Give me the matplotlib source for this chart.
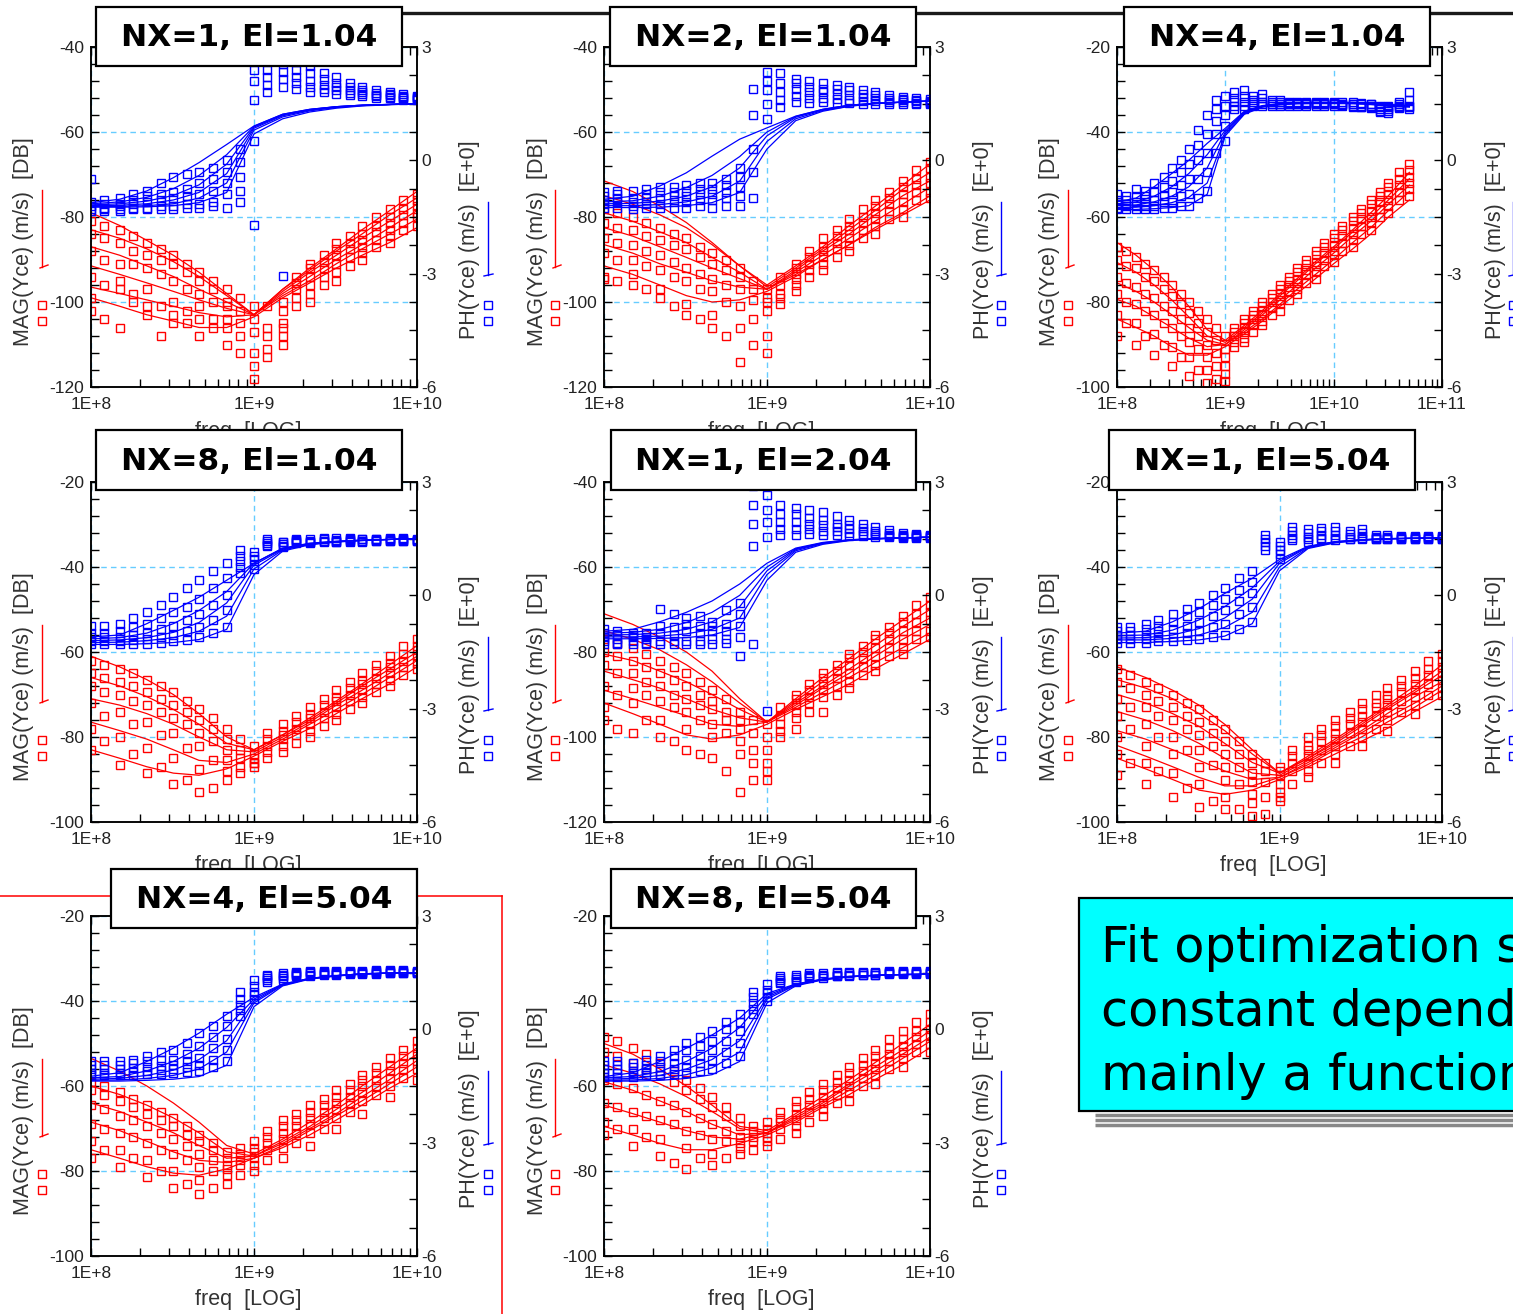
import matplotlib

matplotlib.use("Agg")
import matplotlib.pyplot as plt
import numpy as np
from matplotlib.patches import Rectangle
from matplotlib.ticker import FuncFormatter, LogLocator, MultipleLocator, NullFormatter

W, H = 1513, 1314
RED = "#ff0000"
BLUE = "#0000ff"
GRID = "#66ccff"

plt.rcParams["font.family"] = ["Liberation Sans", "DejaVu Sans"]
plt.rcParams["axes.unicode_minus"] = False

FREQ = [1e8, 1.5e8, 2.2e8, 3.2e8, 4.6e8, 6.8e8, 1e9, 1.5e9, 2.2e9, 3.2e9, 4.6e9, 6.8e9, 1e10]
FREQ_MID = [1.2e8, 1.8e8, 2.7e8, 3.9e8, 5.6e8, 8.2e8, 1.2e9, 1.8e9, 2.7e9, 3.9e9, 5.6e9, 8.2e9]
FREQ_WIDE = [1e8, 1.5e8, 2.2e8, 3.2e8, 4.6e8, 6.8e8, 1e9, 1.5e9, 2.2e9, 3.2e9, 4.6e9, 6.8e9,
             1e10, 1.5e10, 2.2e10, 3.2e10, 5e10]
FREQ_WIDE_MID = [1.2e8, 1.8e8, 2.7e8, 3.9e8, 5.6e8, 8.2e8, 1.2e9, 1.8e9, 2.7e9, 3.9e9, 5.6e9,
                 8.2e9, 1.2e10, 1.8e10, 2.7e10, 4e10]

# ---- NX=1, El=1.04 ----
MAG_FIT_NX1_E1 = [
    [-79, -82, -85.5, -89, -93, -98, -103, -97, -92, -87.5, -83, -78.5, -74],
    [-83, -85, -87.5, -90.5, -94, -98.5, -103, -97, -92.5, -88, -84, -79.5, -75.5],
    [-87, -89, -91.5, -94, -97, -100, -103, -97.5, -93, -89, -85, -81, -77],
    [-91.5, -93.5, -95.5, -97.5, -99.5, -101.5, -103, -98, -94, -90, -86.5, -82.5, -78.5],
    [-96.5, -98, -99.5, -101, -102.5, -103.5, -103, -98.5, -95, -91, -87.5, -84, -80.5],
    [-99, -101, -103, -104.5, -106, -106, -103.5, -99, -95.5, -92, -89, -86, -82.5],
]
MAG_MEAS_NX1_E1 = [
    [-81, -83, -86, -89, -93, -97, -101, -100, -91, -86, -82, -78, -74.5],
    [-84, -86, -89, -91, -95, -100, -104, -106, -92, -87.5, -84, -80, -76],
    [-88, -91, -92, -95, -98, -101, -107, -110, -94, -89, -85.5, -81.5, -77.5],
    [-94, -95, -97, -100, -101, -104, -112, -102, -96, -91, -87, -83, -79],
    [-99, -97, -101, -103, -104, -106, -115, -105, -98, -93, -88.5, -84.5, -80],
    [-102, -106, -103, -105, -108, -110, -118, -108, -100, -95, -90, -86, -82],
]
MAG_MEAS_MID_NX1_E1 = [
    [-82, -84.5, -87.5, -91, -95, -99, -101, -94, -89, -84.5, -80, -76],
    [-85, -88, -90, -93, -97, -102, -108, -95.5, -90.5, -86, -82, -78],
    [-90, -91, -93.5, -97, -100, -105, -111, -97, -92, -87.5, -83.5, -79.5],
    [-96, -98, -101, -102, -104, -108, -113, -99, -94, -89.5, -85.5, -81.5],
    [-104, -100, -108, -105, -106, -112, -106, -101, -96, -91.5, -87, -83],
]
PH_FIT_NX1_E1 = [
    [-1.12, -1.03, -0.81, -0.46, -0.06, 0.42, 0.91, 1.22, 1.35, 1.42, 1.46, 1.48, 1.5],
    [-1.15, -1.1, -0.98, -0.75, -0.4, 0.15, 0.9, 1.22, 1.35, 1.42, 1.46, 1.48, 1.5],
    [-1.18, -1.15, -1.08, -0.93, -0.65, -0.1, 0.88, 1.2, 1.34, 1.42, 1.46, 1.48, 1.5],
    [-1.2, -1.19, -1.15, -1.05, -0.85, -0.35, 0.85, 1.18, 1.33, 1.41, 1.45, 1.48, 1.5],
    [-1.22, -1.22, -1.2, -1.15, -1.0, -0.6, 0.8, 1.15, 1.31, 1.4, 1.45, 1.48, 1.5],
    [-1.24, -1.24, -1.23, -1.2, -1.12, -0.85, 0.7, 1.1, 1.28, 1.38, 1.44, 1.47, 1.5],
]
PH_MEAS_NX1_E1 = [
    [-1.1, -1.0, -0.8, -0.45, -0.3, 0.0, 2.4, 2.55, 2.5, 2.2, 1.95, 1.8, 1.7],
    [-1.2, -1.15, -0.95, -0.85, -0.6, -0.3, 0.5, 2.35, 2.3, 2.05, 1.85, 1.75, 1.68],
    [-1.3, -1.2, -1.1, -1.0, -0.9, -0.6, 1.6, 2.15, 2.1, 1.95, 1.8, 1.72, 1.65],
    [-1.35, -1.3, -1.25, -1.2, -1.15, -0.9, -1.7, 1.95, 1.95, 1.85, 1.75, 1.68, 1.62],
    [-0.5, -1.35, -1.3, -1.3, -1.25, -1.25, 2.1, -3.05, 1.8, 1.75, 1.7, 1.65, 1.6],
]
PH_MEAS_MID_NX1_E1 = [
    [-1.05, -0.9, -0.6, -0.35, -0.2, 0.3, 2.7, 2.6, 2.3, 2.05, 1.85, 1.75],
    [-1.15, -1.05, -0.9, -0.75, -0.5, -0.05, 2.4, 2.4, 2.15, 1.95, 1.78, 1.7],
    [-1.25, -1.15, -1.05, -0.95, -0.8, -0.45, 2.2, 2.2, 2.0, 1.85, 1.74, 1.67],
    [-1.3, -1.25, -1.2, -1.15, -1.1, -0.8, 2.0, 2.05, 1.9, 1.78, 1.7, 1.64],
    [-1.35, -1.3, -1.28, -1.25, -1.22, -1.1, 1.8, 1.9, 1.82, 1.72, 1.66, 1.6],
]

# ---- NX=2, El=1.04 ----
MAG_FIT_NX2_E1 = [
    [-71.5, -74, -77.4, -81.3, -86, -91.5, -96, -91.5, -87, -82, -77.5, -72.5, -67.5],
    [-75, -77, -79.5, -82.5, -86.5, -91.5, -96.5, -92, -87.5, -83, -78.5, -73.5, -69.5],
    [-79, -81, -83.5, -86, -89.5, -93, -97, -92.5, -88, -84, -79.5, -75, -71.5],
    [-82.5, -84.5, -87, -89.5, -92, -94.5, -97, -93, -89, -85, -81, -77, -73],
    [-86.5, -88.5, -91, -93, -95, -96.5, -97, -93.5, -90, -86.5, -82.5, -79, -75],
    [-91.5, -93.5, -96, -98.5, -100, -99.5, -97.5, -94, -90, -86.5, -83, -79.5, -76],
]
MAG_MEAS_NX2_E1 = [
    [-78, -80, -82.5, -85, -88.5, -92, -97, -91, -85, -80.5, -76, -71.5, -67],
    [-81.5, -83, -85.5, -87.5, -91, -94, -99, -92, -87, -82, -77.5, -73, -68.5],
    [-85, -86.5, -89, -92, -94.5, -97, -100, -93.5, -88, -83, -79, -74.5, -70.5],
    [-88.5, -90, -92.5, -95, -97.5, -101, -102, -94.5, -89.5, -85, -80.5, -76.5, -72],
    [-94, -93.5, -97, -100.5, -103, -106, -108, -96, -91, -86.5, -82, -78, -74],
    [-94.5, -96, -99, -103, -106, -114, -112, -97.5, -92.5, -88, -84, -80, -75.5],
]
MAG_MEAS_MID_NX2_E1 = [
    [-79, -81.5, -84, -87, -90, -95, -94, -88, -83, -78, -74, -69],
    [-82.5, -84.5, -86.5, -89.5, -92.5, -97, -96, -89.5, -84.5, -80, -75.5, -71],
    [-86, -88, -90.5, -93.5, -96, -99.5, -98, -91, -86, -81.5, -77, -72.5],
    [-90, -91.5, -94, -97, -100, -104, -99, -92.5, -87.5, -83, -78.5, -74],
    [-95, -97, -101, -104, -108, -110, -100.5, -94, -89.5, -85, -80.5, -76],
]
PH_FIT_NX2_E1 = [
    [-1.03, -0.95, -0.68, -0.33, 0.11, 0.56, 0.86, 1.17, 1.35, 1.46, 1.51, 1.54, 1.57],
    [-1.1, -1.07, -0.95, -0.72, -0.4, 0.1, 0.75, 1.16, 1.35, 1.46, 1.51, 1.54, 1.57],
    [-1.15, -1.14, -1.08, -0.95, -0.7, -0.2, 0.65, 1.14, 1.34, 1.45, 1.51, 1.54, 1.57],
    [-1.2, -1.2, -1.17, -1.1, -0.95, -0.55, 0.5, 1.1, 1.32, 1.44, 1.5, 1.54, 1.57],
    [-1.25, -1.25, -1.24, -1.2, -1.12, -0.85, 0.3, 1.05, 1.3, 1.43, 1.5, 1.54, 1.57],
]
PH_MEAS_NX2_E1 = [
    [-0.85, -0.8, -0.7, -0.65, -0.6, -0.2, 2.35, 2.15, 2.05, 1.95, 1.8, 1.68, 1.62],
    [-0.95, -1.0, -0.85, -0.8, -0.75, -0.45, 2.1, 2.05, 1.9, 1.85, 1.72, 1.63, 1.58],
    [-1.05, -1.1, -1.0, -0.95, -0.9, -0.7, 1.85, 1.9, 1.8, 1.72, 1.65, 1.6, 1.55],
    [-1.15, -1.2, -1.15, -1.1, -1.05, -0.95, 1.5, 1.7, 1.65, 1.6, 1.58, 1.55, 1.52],
    [-1.25, -1.3, -1.25, -1.25, -1.25, -1.2, 1.1, 1.55, 1.55, 1.52, 1.5, 1.5, 1.5],
]
PH_MEAS_MID_NX2_E1 = [
    [-0.8, -0.75, -0.7, -0.6, -0.5, 1.9, 2.3, 2.1, 2.0, 1.85, 1.72, 1.65],
    [-0.9, -0.9, -0.85, -0.75, -0.65, 1.2, 2.05, 1.95, 1.88, 1.75, 1.65, 1.6],
    [-1.0, -1.0, -0.95, -0.9, -0.85, 0.3, 1.8, 1.8, 1.75, 1.68, 1.6, 1.56],
    [-1.1, -1.15, -1.1, -1.05, -1.0, -0.3, 1.6, 1.65, 1.62, 1.58, 1.55, 1.53],
    [-1.25, -1.25, -1.25, -1.2, -1.2, -1.0, 1.4, 1.52, 1.52, 1.5, 1.5, 1.5],
]

# ---- NX=4, El=1.04 (wide band) ----
MAG_FIT_NX4_E1 = [
    [-66, -69, -72.5, -76.5, -81, -86.5, -89, -85.5, -82, -78, -74.5, -70.5, -67, -63, -59, -55, -49.5],
    [-70.7, -73, -76, -79.5, -83.5, -88, -89.5, -86, -82.5, -78.5, -75, -71, -67.5, -63.5, -60, -56, -51],
    [-75.5, -77.5, -80, -83, -86, -89, -90, -86.5, -83, -79.5, -76, -72, -68.5, -64.5, -61, -57, -52.5],
    [-79.4, -81, -83.5, -86, -88.5, -90.5, -90, -87, -84, -80.5, -77, -73.5, -70, -66, -62.5, -58.5, -54],
    [-84, -86, -88, -90.5, -92.5, -92.5, -90.5, -87.5, -84.5, -81, -78, -74.5, -71, -67.5, -64, -60, -56],
]
MAG_MEAS_NX4_E1 = [
    [-67, -69.5, -72.5, -76, -80, -84, -88, -84, -80, -76, -72, -68, -64, -60, -56, -52, -47.5],
    [-70, -72, -75, -78.5, -82.5, -87, -91, -85, -81, -77, -73, -69, -65, -61, -57, -53, -49],
    [-74, -76.5, -79, -82, -86, -90, -93, -86, -82, -78, -74.5, -70.5, -66.5, -62.5, -58.5, -54.5, -50.5],
    [-78, -80.5, -83, -86, -89.5, -93, -95, -87, -83, -79.5, -75.5, -71.5, -68, -64, -60, -56, -52],
    [-83, -85, -87.5, -90.5, -93, -96, -97, -88.5, -84.5, -80.5, -77, -73, -69, -65.5, -61.5, -57.5, -53.5],
    [-88, -90, -92.5, -95, -97.5, -99, -98.5, -89.5, -85.5, -82, -78, -74.5, -70.5, -67, -63, -59, -55],
]
MAG_MEAS_MID_NX4_E1 = [
    [-68, -71, -74, -78, -82, -86, -86, -82, -78, -74, -70, -66, -62, -58, -54, -49.5],
    [-71.5, -74, -77, -80.5, -85, -89, -87, -83, -79, -75, -71, -67, -63, -59, -55, -51],
    [-75.5, -78, -81, -84, -88, -92, -88, -84, -80, -76.5, -72.5, -68.5, -64.5, -60.5, -56.5, -52.5],
    [-80, -82, -85, -88, -91, -95, -89.5, -85.5, -81.5, -77.5, -73.5, -70, -66, -62, -58, -54],
    [-85, -88, -90, -93, -96, -98, -90.5, -87, -83, -79.5, -75.5, -71.5, -68, -64, -60, -56],
]
PH_FIT_NX4_E1 = [
    [-1.1, -1.0, -0.7, -0.35, 0.0, 0.45, 0.85, 1.3, 1.45, 1.5, 1.52, 1.53, 1.53, 1.53, 1.52, 1.48, 1.45],
    [-1.15, -1.1, -0.95, -0.7, -0.35, 0.15, 0.8, 1.28, 1.44, 1.5, 1.52, 1.53, 1.53, 1.53, 1.51, 1.46, 1.44],
    [-1.2, -1.18, -1.1, -0.95, -0.7, -0.2, 0.75, 1.26, 1.43, 1.49, 1.51, 1.52, 1.52, 1.52, 1.5, 1.45, 1.43],
    [-1.25, -1.24, -1.2, -1.12, -0.98, -0.6, 0.7, 1.24, 1.42, 1.48, 1.5, 1.51, 1.51, 1.51, 1.49, 1.44, 1.42],
    [-1.3, -1.3, -1.28, -1.25, -1.2, -0.9, 0.65, 1.22, 1.41, 1.47, 1.5, 1.5, 1.5, 1.5, 1.48, 1.43, 1.41],
]
PH_MEAS_NX4_E1 = [
    [-0.9, -0.75, -0.6, -0.2, 0.3, 1.2, 1.7, 1.85, 1.75, 1.6, 1.55, 1.55, 1.55, 1.55, 1.5, 1.45, 1.8],
    [-1.05, -0.95, -0.85, -0.55, -0.1, 0.7, 1.45, 1.7, 1.65, 1.55, 1.52, 1.52, 1.52, 1.5, 1.48, 1.4, 1.6],
    [-1.15, -1.1, -1.05, -0.85, -0.5, 0.2, 1.2, 1.55, 1.55, 1.5, 1.5, 1.5, 1.5, 1.48, 1.45, 1.35, 1.45],
    [-1.25, -1.2, -1.2, -1.1, -0.9, -0.3, 0.9, 1.45, 1.5, 1.48, 1.48, 1.48, 1.48, 1.45, 1.42, 1.3, 1.4],
    [-1.3, -1.3, -1.3, -1.25, -1.2, -0.8, 0.5, 1.35, 1.45, 1.45, 1.45, 1.45, 1.45, 1.42, 1.38, 1.25, 1.35],
]
PH_MEAS_MID_NX4_E1 = [
    [-0.95, -0.8, -0.45, 0.0, 0.8, 1.6, 1.8, 1.7, 1.6, 1.55, 1.55, 1.55, 1.55, 1.52, 1.45, 1.55],
    [-1.05, -0.95, -0.7, -0.3, 0.4, 1.35, 1.65, 1.6, 1.55, 1.52, 1.52, 1.52, 1.5, 1.48, 1.4, 1.5],
    [-1.15, -1.1, -0.95, -0.65, 0.0, 1.05, 1.55, 1.55, 1.5, 1.5, 1.5, 1.5, 1.48, 1.45, 1.35, 1.45],
    [-1.22, -1.2, -1.1, -0.95, -0.5, 0.7, 1.45, 1.5, 1.48, 1.48, 1.48, 1.48, 1.46, 1.42, 1.3, 1.42],
    [-1.3, -1.3, -1.25, -1.2, -1.0, 0.2, 1.35, 1.45, 1.45, 1.45, 1.45, 1.45, 1.43, 1.4, 1.27, 1.38],
]

# ---- NX=8, El=1.04 ----
MAG_FIT_NX8_E1 = [
    [-61, -63.5, -66.5, -70, -74.5, -80, -83, -79.5, -75.5, -71.5, -67.5, -63, -58.5],
    [-66, -68, -70.5, -73.5, -77, -81.5, -83, -79.5, -76, -72, -68, -64, -60],
    [-71, -72.5, -74.5, -77, -80, -83, -83.5, -80, -76.5, -72.5, -69, -65, -61],
    [-76.5, -78.5, -80.5, -83, -85.5, -86, -84, -80.5, -77, -73.5, -70, -66, -62],
    [-83, -85, -87, -88.5, -89, -87.5, -84.5, -81, -78, -74.5, -71, -67.5, -63.5],
]
MAG_MEAS_NX8_E1 = [
    [-62, -64, -66.5, -69.5, -73.5, -78, -82, -77, -73, -69, -65, -61, -57],
    [-65, -67, -69.5, -72.5, -76, -80.5, -84, -78.5, -74.5, -70.5, -66.5, -62.5, -58.5],
    [-68, -70, -72.5, -75.5, -79, -83, -85, -79.5, -75.5, -71.5, -67.5, -63.5, -59.5],
    [-72, -74, -76.5, -79, -82, -85.5, -86, -80.5, -77, -73, -69, -65, -61],
    [-78, -80, -82.5, -85, -87.5, -88, -86, -82, -78.5, -74.5, -70.5, -66.5, -62.5],
    [-83, -86.5, -88.5, -91, -93, -90, -87, -83.5, -80, -76, -72, -68, -64],
]
MAG_MEAS_MID_NX8_E1 = [
    [-63, -65, -68, -71.5, -75.5, -80.5, -79, -75, -71, -67, -63, -58.5],
    [-66, -68, -71, -74, -78, -83, -80.5, -76.5, -72.5, -68.5, -64.5, -60.5],
    [-69.5, -71.5, -74, -77, -81, -85, -82, -78, -74, -70, -66, -62],
    [-75, -77, -79.5, -82.5, -85.5, -87, -83.5, -79.5, -75.5, -71.5, -67.5, -63.5],
    [-81, -84, -87, -90, -92, -88.5, -85, -81.5, -77.5, -73.5, -69.5, -65.5],
]
PH_FIT_NX8_E1 = [
    [-1.1, -1.05, -0.75, -0.4, -0.05, 0.4, 0.85, 1.25, 1.38, 1.43, 1.46, 1.48, 1.5],
    [-1.15, -1.12, -1.0, -0.75, -0.4, 0.1, 0.85, 1.24, 1.37, 1.43, 1.46, 1.48, 1.5],
    [-1.2, -1.18, -1.12, -0.98, -0.72, -0.2, 0.8, 1.22, 1.36, 1.42, 1.46, 1.48, 1.5],
    [-1.25, -1.24, -1.2, -1.12, -0.95, -0.55, 0.7, 1.2, 1.35, 1.42, 1.45, 1.48, 1.5],
    [-1.3, -1.3, -1.28, -1.25, -1.17, -0.9, 0.55, 1.17, 1.34, 1.41, 1.45, 1.48, 1.5],
]
PH_MEAS_NX8_E1 = [
    [-0.8, -0.75, -0.45, -0.05, 0.4, 0.85, 1.05, 1.42, 1.5, 1.52, 1.5, 1.52, 1.5],
    [-1.0, -0.95, -0.75, -0.45, -0.1, 0.45, 1.15, 1.4, 1.45, 1.47, 1.48, 1.48, 1.47],
    [-1.1, -1.1, -1.0, -0.8, -0.5, 0.0, 0.95, 1.35, 1.42, 1.45, 1.45, 1.46, 1.46],
    [-1.2, -1.2, -1.15, -1.05, -0.85, -0.4, 0.8, 1.3, 1.4, 1.42, 1.44, 1.45, 1.45],
    [-1.3, -1.3, -1.28, -1.22, -1.1, -0.85, 0.7, 1.28, 1.38, 1.4, 1.42, 1.43, 1.44],
]
PH_MEAS_MID_NX8_E1 = [
    [-0.8, -0.6, -0.25, 0.2, 0.65, 1.2, 1.48, 1.5, 1.52, 1.52, 1.5, 1.52],
    [-1.0, -0.85, -0.6, -0.3, 0.2, 1.05, 1.43, 1.47, 1.48, 1.48, 1.48, 1.48],
    [-1.1, -1.05, -0.9, -0.65, -0.25, 0.9, 1.38, 1.43, 1.45, 1.46, 1.46, 1.46],
    [-1.2, -1.18, -1.1, -0.95, -0.65, 0.75, 1.34, 1.41, 1.43, 1.44, 1.45, 1.45],
    [-1.3, -1.3, -1.25, -1.18, -1.0, 0.6, 1.3, 1.38, 1.41, 1.42, 1.43, 1.44],
]

# ---- NX=1, El=2.04 ----
MAG_FIT_NX1_E2 = [
    [-71, -73.5, -76.5, -80, -84.5, -91, -96.5, -91, -86, -81.5, -77, -72.5, -68],
    [-75, -77, -79.5, -83, -87, -92, -96.5, -91.5, -87, -82.5, -78.5, -74, -70],
    [-80.5, -82, -84.5, -87, -90, -93.5, -96.5, -92, -88, -84, -80, -75.5, -72],
    [-84.5, -86.5, -88.5, -91, -93.5, -95.5, -96.5, -92.5, -88.5, -85, -81, -77, -73.5],
    [-89, -91, -93, -95, -97, -97.5, -96.5, -93, -89.5, -86, -82.5, -79, -75.5],
    [-92, -94.5, -97, -99.5, -100.5, -99.5, -97, -93.5, -90.5, -87.5, -84, -80.5, -77],
]
MAG_MEAS_NX1_E2 = [
    [-77, -79, -82, -85, -89, -94, -97, -90, -85, -80.5, -76, -71.5, -67],
    [-80, -82, -85, -88, -91.5, -96, -100, -91, -86, -81.5, -77, -73, -69],
    [-83, -85, -88, -91, -93.5, -98, -103, -92.5, -87.5, -83, -79, -75, -70.5],
    [-88, -88.5, -91.5, -94, -97, -101, -106, -94, -89, -85, -81, -77, -72.5],
    [-93, -92, -96, -98, -100, -104, -108, -95.5, -90.5, -87, -83, -79, -75],
    [-96, -99, -100, -103, -105, -113, -110, -98, -94, -88.5, -84.5, -80.5, -76.5],
]
MAG_MEAS_MID_NX1_E2 = [
    [-78, -80.5, -83.5, -87, -91, -96, -93, -87.5, -83, -78.5, -74, -69],
    [-81, -83.5, -86.5, -90, -94, -99, -95, -89, -84.5, -80, -75.5, -71],
    [-85, -87, -90, -92.5, -96, -103, -97, -90.5, -86, -81.5, -77, -73],
    [-90, -90, -93, -96, -99, -106, -98.5, -92, -88, -83.5, -79, -75],
    [-98, -96, -101, -104, -108, -110, -100, -94, -90, -85.5, -81, -77],
]
PH_FIT_NX1_E2 = [
    [-0.95, -0.9, -0.7, -0.45, -0.15, 0.3, 0.85, 1.25, 1.4, 1.47, 1.5, 1.52, 1.54],
    [-1.0, -0.98, -0.9, -0.72, -0.45, 0.0, 0.75, 1.23, 1.39, 1.47, 1.5, 1.52, 1.54],
    [-1.05, -1.04, -1.0, -0.9, -0.7, -0.3, 0.65, 1.21, 1.38, 1.46, 1.5, 1.52, 1.54],
    [-1.1, -1.1, -1.08, -1.02, -0.9, -0.6, 0.55, 1.18, 1.37, 1.46, 1.5, 1.52, 1.54],
    [-1.15, -1.15, -1.14, -1.12, -1.05, -0.85, 0.4, 1.14, 1.35, 1.45, 1.49, 1.52, 1.54],
]
PH_MEAS_NX1_E2 = [
    [-0.9, -1.0, -0.35, -0.6, -0.7, -0.2, 2.65, 2.3, 2.2, 2.0, 1.8, 1.65, 1.6],
    [-1.0, -1.05, -0.8, -0.75, -0.8, -0.5, 2.25, 2.15, 2.0, 1.85, 1.7, 1.6, 1.58],
    [-1.1, -1.1, -1.0, -0.95, -0.95, -0.8, 1.95, 1.95, 1.85, 1.75, 1.65, 1.58, 1.56],
    [-1.2, -1.2, -1.2, -1.2, -1.15, -1.1, 1.55, 1.75, 1.7, 1.65, 1.6, 1.55, 1.54],
    [-1.3, -1.3, -1.3, -1.3, -1.3, -1.6, -3.05, 1.6, 1.6, 1.58, 1.55, 1.53, 1.52],
]
PH_MEAS_MID_NX1_E2 = [
    [-0.95, -1.0, -0.5, -0.55, -0.4, 2.9, 2.4, 2.25, 2.1, 1.9, 1.72, 1.62],
    [-1.05, -1.1, -0.85, -0.8, -0.75, 2.4, 2.15, 2.05, 1.9, 1.78, 1.66, 1.6],
    [-1.15, -1.15, -1.05, -1.0, -0.95, 1.9, 1.95, 1.9, 1.8, 1.7, 1.6, 1.57],
    [-1.25, -1.25, -1.2, -1.2, -1.15, 1.3, 1.75, 1.75, 1.7, 1.62, 1.56, 1.55],
    [-1.3, -1.3, -1.3, -1.3, -1.25, -1.3, 1.6, 1.62, 1.6, 1.56, 1.54, 1.53],
]

# ---- NX=1, El=5.04 ----
MAG_FIT_NX1_E5 = [
    [-63.5, -66, -69, -72.5, -77, -83, -88.5, -84.5, -80.5, -76.5, -72.5, -68, -63],
    [-66.5, -68.5, -71, -74.5, -78.5, -84, -88.5, -85, -81, -77, -73, -69, -64.5],
    [-70, -72, -74.5, -77.5, -81.5, -86, -88.5, -85, -81.5, -77.5, -73.5, -69.5, -65.5],
    [-74, -76, -78.5, -81.5, -85, -88.5, -89, -85.5, -82, -78.5, -74.5, -70.5, -67],
    [-78.5, -80.5, -83, -85.5, -88, -90, -89.5, -86, -82.5, -79, -75.5, -72, -68],
    [-82, -84.5, -87, -89.5, -91.5, -91.5, -89.5, -86.5, -83, -80, -76.5, -73, -69],
    [-85, -87.5, -90, -92.5, -93.5, -92.5, -90, -87, -84, -81, -78, -74, -70.5],
]
MAG_MEAS_NX1_E5 = [
    [-64, -67, -70, -73.5, -78, -84, -87, -80, -76, -72, -68.5, -64.5, -60.5],
    [-67, -70, -73, -76.5, -81, -86, -88, -82, -77.5, -73.5, -70, -66, -62],
    [-71, -73, -76, -79.5, -84, -88.5, -89, -83, -79, -75, -71, -67.5, -63.5],
    [-75, -77, -80, -83, -87, -90.5, -91, -84.5, -80.5, -76.5, -72.5, -69, -65],
    [-80, -82, -84, -87, -90, -93.5, -93, -86, -82, -78, -74, -70.5, -66.5],
    [-84, -86, -88.5, -91, -94, -95.5, -94, -88, -84, -80, -76, -72.5, -68.5],
    [-89, -91, -94, -96.5, -97, -98.5, -95, -89.5, -86, -82, -78.5, -74.5, -70],
]
MAG_MEAS_MID_NX1_E5 = [
    [-65.5, -68.5, -72, -76, -81, -86, -83, -78, -74, -70, -66.5, -62],
    [-68.5, -71.5, -75, -79, -84, -88, -84.5, -79.5, -75.5, -72, -68, -64],
    [-73, -75, -78, -82, -87, -90.5, -86, -81, -77, -73, -69.5, -65.5],
    [-78, -80, -83, -86.5, -91, -94, -88, -83, -79, -75, -71.5, -67.5],
    [-86, -88, -92, -95, -97, -98, -91, -86, -82, -78, -74, -70],
]
PH_FIT_NX1_E5 = [
    [-1.0, -0.95, -0.7, -0.35, 0.05, 0.45, 0.95, 1.3, 1.42, 1.47, 1.5, 1.51, 1.52],
    [-1.07, -1.05, -0.92, -0.65, -0.3, 0.2, 0.9, 1.29, 1.42, 1.47, 1.5, 1.51, 1.52],
    [-1.13, -1.12, -1.05, -0.88, -0.6, -0.1, 0.85, 1.28, 1.41, 1.47, 1.5, 1.51, 1.52],
    [-1.18, -1.18, -1.14, -1.05, -0.85, -0.45, 0.75, 1.26, 1.4, 1.46, 1.5, 1.51, 1.52],
    [-1.25, -1.25, -1.22, -1.18, -1.08, -0.75, 0.65, 1.24, 1.39, 1.46, 1.49, 1.51, 1.52],
]
PH_MEAS_NX1_E5 = [
    [-0.85, -0.75, -0.5, -0.2, 0.2, 0.65, 1.4, 1.75, 1.8, 1.75, 1.6, 1.58, 1.58],
    [-0.95, -0.9, -0.7, -0.45, -0.1, 0.35, 1.3, 1.65, 1.7, 1.65, 1.55, 1.55, 1.55],
    [-1.05, -1.05, -0.9, -0.7, -0.4, 0.05, 1.2, 1.55, 1.6, 1.58, 1.52, 1.52, 1.52],
    [-1.15, -1.15, -1.1, -0.95, -0.75, -0.3, 1.1, 1.48, 1.52, 1.52, 1.5, 1.5, 1.5],
    [-1.25, -1.25, -1.22, -1.15, -1.05, -0.7, 0.95, 1.42, 1.47, 1.48, 1.48, 1.48, 1.48],
]
PH_MEAS_MID_NX1_E5 = [
    [-0.85, -0.65, -0.35, 0.0, 0.45, 1.6, 1.8, 1.78, 1.7, 1.6, 1.58, 1.58],
    [-0.95, -0.8, -0.55, -0.25, 0.15, 1.5, 1.7, 1.7, 1.62, 1.55, 1.55, 1.55],
    [-1.05, -0.95, -0.8, -0.55, -0.15, 1.4, 1.6, 1.6, 1.55, 1.52, 1.52, 1.52],
    [-1.15, -1.1, -1.0, -0.85, -0.5, 1.3, 1.52, 1.53, 1.5, 1.5, 1.5, 1.5],
    [-1.25, -1.22, -1.18, -1.1, -0.9, 1.2, 1.46, 1.48, 1.48, 1.48, 1.48, 1.48],
]

# ---- NX=4, El=5.04 ----
MAG_FIT_NX4_E5 = [
    [-53.5, -56.5, -60, -64, -68.5, -74, -76, -72.5, -68.5, -64.5, -60, -55.5, -51],
    [-60, -62, -64.5, -67.5, -71, -75.5, -76.5, -73, -69.5, -65.5, -61.5, -57, -52.5],
    [-64, -66, -68.5, -71, -74, -77, -76.5, -73.5, -70, -66.5, -62.5, -58.5, -54],
    [-68.5, -70.5, -73, -75.5, -77.5, -78, -77, -74, -70.5, -67, -63.5, -59.5, -55.5],
    [-75, -77, -79, -80.5, -81, -79.5, -77, -74.5, -71.5, -68, -64.5, -60.5, -57],
]
MAG_MEAS_NX4_E5 = [
    [-59, -61.5, -64.5, -67.5, -71.5, -75.5, -73, -68, -64.5, -61, -57.5, -53.5, -49.5],
    [-61, -63.5, -66.5, -69.5, -73, -77, -74.5, -69.5, -66, -62.5, -58.5, -55, -51],
    [-64.5, -67, -69.5, -72.5, -76, -78.5, -75.5, -71, -67.5, -64, -60, -56.5, -52.5],
    [-69, -71, -73.5, -76, -79, -79.5, -77, -72.5, -69, -65.5, -61.5, -58, -54],
    [-73, -75, -77.5, -80, -82, -81, -78.5, -74.5, -71, -67.5, -63.5, -60, -56],
    [-77, -79, -81.5, -84, -85.5, -83, -80, -77, -74, -70, -66.5, -62.5, -58.5],
]
MAG_MEAS_MID_NX4_E5 = [
    [-60, -63, -66, -69.5, -73.5, -74.5, -70.5, -66.5, -63, -59.5, -55.5, -51.5],
    [-62, -65, -68, -71.5, -75, -76, -72, -68, -64.5, -61, -57, -53],
    [-65.5, -68, -71, -74, -77.5, -77.5, -73.5, -69.5, -66, -62.5, -58.5, -54.5],
    [-70, -72, -75, -77.5, -80, -78.5, -75, -71, -67.5, -64, -60, -56],
    [-75, -77, -80, -83, -84, -81, -77.5, -73.5, -70, -66, -62, -58],
]
PH_FIT_NX4_E5 = [
    [-1.24, -1.15, -0.85, -0.5, -0.1, 0.4, 0.85, 1.2, 1.35, 1.42, 1.47, 1.49, 1.5],
    [-1.28, -1.25, -1.1, -0.85, -0.5, 0.05, 0.8, 1.19, 1.35, 1.42, 1.47, 1.49, 1.5],
    [-1.32, -1.3, -1.22, -1.08, -0.8, -0.3, 0.75, 1.18, 1.34, 1.42, 1.47, 1.49, 1.5],
    [-1.35, -1.34, -1.3, -1.22, -1.05, -0.6, 0.7, 1.17, 1.34, 1.42, 1.46, 1.49, 1.5],
    [-1.37, -1.37, -1.35, -1.32, -1.25, -0.95, 0.6, 1.15, 1.33, 1.41, 1.46, 1.49, 1.5],
]
PH_MEAS_NX4_E5 = [
    [-0.85, -0.85, -0.7, -0.55, -0.1, 0.35, 1.3, 1.5, 1.55, 1.55, 1.55, 1.57, 1.55],
    [-0.95, -0.95, -0.85, -0.8, -0.45, 0.1, 1.15, 1.45, 1.52, 1.53, 1.53, 1.54, 1.53],
    [-1.05, -1.05, -1.0, -0.95, -0.75, -0.25, 1.0, 1.4, 1.48, 1.5, 1.5, 1.52, 1.51],
    [-1.15, -1.15, -1.1, -1.05, -0.95, -0.55, 0.9, 1.35, 1.45, 1.47, 1.48, 1.5, 1.5],
    [-1.2, -1.2, -1.18, -1.15, -1.1, -0.85, 0.8, 1.3, 1.42, 1.45, 1.46, 1.48, 1.48],
]
PH_MEAS_MID_NX4_E5 = [
    [-0.85, -0.8, -0.6, -0.35, 0.1, 1.0, 1.45, 1.52, 1.55, 1.55, 1.56, 1.56],
    [-0.95, -0.9, -0.8, -0.65, -0.2, 0.8, 1.4, 1.5, 1.52, 1.53, 1.54, 1.54],
    [-1.05, -1.02, -0.97, -0.85, -0.5, 0.65, 1.35, 1.46, 1.5, 1.5, 1.52, 1.52],
    [-1.15, -1.12, -1.08, -1.0, -0.8, 0.5, 1.3, 1.43, 1.47, 1.48, 1.5, 1.5],
    [-1.2, -1.2, -1.17, -1.13, -1.0, 0.35, 1.25, 1.4, 1.44, 1.46, 1.47, 1.48],
]

# ---- NX=8, El=5.04 ----
MAG_FIT_NX8_E5 = [
    [-50, -52.5, -56, -60, -64.5, -69.5, -70.5, -66.5, -62.5, -58.5, -54.5, -50, -45.5],
    [-55, -57, -59.5, -62.5, -66, -70, -71, -67, -63.5, -59.5, -55.5, -51.5, -47],
    [-59, -61, -63.5, -66, -69, -71.5, -71, -67.5, -64, -60, -56.5, -52.5, -48.5],
    [-64.5, -66.5, -68.5, -70.5, -72, -72.5, -71, -68, -64.5, -61, -57.5, -53.5, -49.5],
    [-69.5, -71.5, -73.5, -75, -75, -73.5, -71.5, -68.5, -65, -62, -58.5, -55, -51],
]
MAG_MEAS_NX8_E5 = [
    [-48.5, -51, -54.5, -58.5, -62.5, -67.5, -68.5, -63.5, -59.5, -55.5, -51.5, -47, -43],
    [-52, -54.5, -57.5, -61, -65, -69.5, -70, -65, -61, -57, -53, -49, -45],
    [-58.5, -60.5, -63.5, -66, -69, -72, -71, -66.5, -62.5, -58.5, -54.5, -50.5, -46.5],
    [-64, -66, -68, -70.5, -72.5, -73.5, -72, -68, -64, -60, -56, -52, -48],
    [-68.5, -70, -72.5, -74.5, -76, -74.5, -73, -69.5, -65.5, -61.5, -57.5, -53.5, -50],
    [-71.5, -74, -76.5, -79.5, -78.5, -76, -74, -71, -67, -63.5, -59.5, -55.5, -52],
]
MAG_MEAS_MID_NX8_E5 = [
    [-49.5, -52.5, -56.5, -60.5, -65, -69.5, -66, -61.5, -57.5, -53.5, -49, -45],
    [-53, -56, -59, -63, -67, -70.5, -67.5, -63, -59, -55, -51, -47],
    [-59.5, -62, -64.5, -67.5, -70.5, -72, -68.5, -64.5, -60.5, -56.5, -52.5, -48.5],
    [-65, -67, -69, -71.5, -73, -73, -70, -66, -62, -58, -54, -50],
    [-70, -72, -78, -77, -77, -75, -72.5, -68.5, -64, -60, -56, -52],
]
PH_FIT_NX8_E5 = [
    [-1.25, -1.15, -0.85, -0.5, -0.15, 0.3, 0.95, 1.2, 1.33, 1.4, 1.43, 1.45, 1.46],
    [-1.28, -1.25, -1.12, -0.85, -0.5, 0.05, 0.9, 1.19, 1.33, 1.4, 1.43, 1.45, 1.46],
    [-1.32, -1.3, -1.22, -1.05, -0.8, -0.3, 0.85, 1.18, 1.32, 1.39, 1.43, 1.45, 1.46],
    [-1.35, -1.34, -1.3, -1.2, -1.02, -0.6, 0.8, 1.17, 1.32, 1.39, 1.43, 1.45, 1.46],
    [-1.37, -1.37, -1.35, -1.3, -1.2, -0.85, 0.7, 1.15, 1.31, 1.39, 1.43, 1.45, 1.46],
]
PH_MEAS_NX8_E5 = [
    [-0.85, -0.9, -0.7, -0.35, -0.05, 0.4, 1.2, 1.45, 1.5, 1.52, 1.53, 1.55, 1.55],
    [-0.95, -1.0, -0.85, -0.55, -0.3, 0.2, 1.05, 1.38, 1.45, 1.48, 1.5, 1.52, 1.52],
    [-1.05, -1.1, -1.0, -0.8, -0.55, -0.05, 0.95, 1.32, 1.42, 1.45, 1.48, 1.5, 1.5],
    [-1.15, -1.15, -1.1, -1.0, -0.8, -0.35, 0.85, 1.28, 1.4, 1.43, 1.45, 1.48, 1.48],
    [-1.25, -1.25, -1.2, -1.15, -1.05, -0.7, 0.75, 1.25, 1.37, 1.4, 1.43, 1.46, 1.46],
]
PH_MEAS_MID_NX8_E5 = [
    [-0.85, -0.8, -0.55, -0.2, 0.2, 1.0, 1.42, 1.48, 1.52, 1.53, 1.55, 1.55],
    [-0.95, -0.95, -0.7, -0.45, 0.0, 0.85, 1.36, 1.44, 1.48, 1.5, 1.52, 1.52],
    [-1.05, -1.05, -0.9, -0.7, -0.3, 0.7, 1.3, 1.4, 1.45, 1.48, 1.5, 1.5],
    [-1.15, -1.12, -1.05, -0.9, -0.6, 0.55, 1.26, 1.38, 1.42, 1.45, 1.48, 1.48],
    [-1.25, -1.22, -1.18, -1.1, -0.9, 0.4, 1.22, 1.35, 1.4, 1.43, 1.46, 1.46],
]

TITLES = ["NX=1, El=1.04", "NX=2, El=1.04", "NX=4, El=1.04", "NX=8, El=1.04",
          "NX=1, El=2.04", "NX=1, El=5.04", "NX=4, El=5.04", "NX=8, El=5.04"]
NOTE_LINES = ["Fit optimization s", "constant depends", "mainly a function"]

# pixel layout: axes box, title box
PANELS = [
    dict(title=TITLES[0], ax=(91, 47, 417, 387), tb=(96, 7, 402, 66), ylim=(-120, -40),
         xlim=(1e8, 1e10), freq=FREQ, freq2=FREQ_MID, mf=MAG_FIT_NX1_E1, mm=MAG_MEAS_NX1_E1,
         mm2=MAG_MEAS_MID_NX1_E1, pf=PH_FIT_NX1_E1, pm=PH_MEAS_NX1_E1, pm2=PH_MEAS_MID_NX1_E1),
    dict(title=TITLES[1], ax=(604, 47, 930, 387), tb=(610, 7, 916, 66), ylim=(-120, -40),
         xlim=(1e8, 1e10), freq=FREQ, freq2=FREQ_MID, mf=MAG_FIT_NX2_E1, mm=MAG_MEAS_NX2_E1,
         mm2=MAG_MEAS_MID_NX2_E1, pf=PH_FIT_NX2_E1, pm=PH_MEAS_NX2_E1, pm2=PH_MEAS_MID_NX2_E1),
    dict(title=TITLES[2], ax=(1117, 47, 1442, 387), tb=(1124, 7, 1430, 66), ylim=(-100, -20),
         xlim=(1e8, 1e11), freq=FREQ_WIDE, freq2=FREQ_WIDE_MID, mf=MAG_FIT_NX4_E1,
         mm=MAG_MEAS_NX4_E1, mm2=MAG_MEAS_MID_NX4_E1, pf=PH_FIT_NX4_E1, pm=PH_MEAS_NX4_E1,
         pm2=PH_MEAS_MID_NX4_E1),
    dict(title=TITLES[3], ax=(91, 482, 417, 822), tb=(96, 430, 402, 490), ylim=(-100, -20),
         xlim=(1e8, 1e10), freq=FREQ, freq2=FREQ_MID, mf=MAG_FIT_NX8_E1, mm=MAG_MEAS_NX8_E1,
         mm2=MAG_MEAS_MID_NX8_E1, pf=PH_FIT_NX8_E1, pm=PH_MEAS_NX8_E1, pm2=PH_MEAS_MID_NX8_E1),
    dict(title=TITLES[4], ax=(604, 482, 930, 822), tb=(611, 430, 916, 490), ylim=(-120, -40),
         xlim=(1e8, 1e10), freq=FREQ, freq2=FREQ_MID, mf=MAG_FIT_NX1_E2, mm=MAG_MEAS_NX1_E2,
         mm2=MAG_MEAS_MID_NX1_E2, pf=PH_FIT_NX1_E2, pm=PH_MEAS_NX1_E2, pm2=PH_MEAS_MID_NX1_E2),
    dict(title=TITLES[5], ax=(1117, 482, 1442, 822), tb=(1109, 430, 1415, 490), ylim=(-100, -20),
         xlim=(1e8, 1e10), freq=FREQ, freq2=FREQ_MID, mf=MAG_FIT_NX1_E5, mm=MAG_MEAS_NX1_E5,
         mm2=MAG_MEAS_MID_NX1_E5, pf=PH_FIT_NX1_E5, pm=PH_MEAS_NX1_E5, pm2=PH_MEAS_MID_NX1_E5),
    dict(title=TITLES[6], ax=(91, 916, 417, 1256), tb=(111, 869, 417, 928), ylim=(-100, -20),
         xlim=(1e8, 1e10), freq=FREQ, freq2=FREQ_MID, mf=MAG_FIT_NX4_E5, mm=MAG_MEAS_NX4_E5,
         mm2=MAG_MEAS_MID_NX4_E5, pf=PH_FIT_NX4_E5, pm=PH_MEAS_NX4_E5, pm2=PH_MEAS_MID_NX4_E5),
    dict(title=TITLES[7], ax=(604, 916, 930, 1256), tb=(611, 869, 916, 928), ylim=(-100, -20),
         xlim=(1e8, 1e10), freq=FREQ, freq2=FREQ_MID, mf=MAG_FIT_NX8_E5, mm=MAG_MEAS_NX8_E5,
         mm2=MAG_MEAS_MID_NX8_E5, pf=PH_FIT_NX8_E5, pm=PH_MEAS_NX8_E5, pm2=PH_MEAS_MID_NX8_E5),
]

MARK = dict(ls="none", marker="s", ms=5.6, mfc="none", mew=1)


def px_rect(x0, y0, x1, y1):
    return [x0 / W, 1 - y1 / H, (x1 - x0) / W, (y1 - y0) / H]


def decade_label(v, _):
    return f"1E+{int(round(np.log10(v)))}"


def draw_panel(fig, ov, p):
    x0, y0, x1, y1 = p["ax"]
    ax = fig.add_axes(px_rect(x0, y0, x1, y1))
    ax.set_xscale("log")
    ax.set_xlim(*p["xlim"])
    ax.set_ylim(*p["ylim"])
    ax.set_axisbelow(True)
    ax.grid(True, which="major", color=GRID, ls=(0, (4, 3)), lw=1)
    for row in p["mf"]:
        ax.plot(p["freq"], row, color=RED, lw=0.9)
    for row in p["mm"]:
        ax.plot(p["freq"], row, mec=RED, **MARK)
    for row in p["mm2"]:
        ax.plot(p["freq2"], row, mec=RED, **MARK)

    ax2 = ax.twinx()
    ax2.set_ylim(-6, 3)
    for row in p["pf"]:
        ax2.plot(p["freq"], row, color=BLUE, lw=0.9)
    for row in p["pm"]:
        ax2.plot(p["freq"], row, mec=BLUE, **MARK)
    for row in p["pm2"]:
        ax2.plot(p["freq2"], row, mec=BLUE, **MARK)

    ax.xaxis.set_major_locator(LogLocator(base=10, numticks=10))
    ax.xaxis.set_minor_locator(LogLocator(base=10, subs=np.arange(2, 10), numticks=30))
    ax.xaxis.set_major_formatter(FuncFormatter(decade_label))
    ax.xaxis.set_minor_formatter(NullFormatter())
    ax.yaxis.set_major_locator(MultipleLocator(20))
    ax.yaxis.set_minor_locator(MultipleLocator(4))
    ax2.yaxis.set_major_locator(MultipleLocator(3))
    ax2.yaxis.set_minor_locator(MultipleLocator(0.75))

    ax.tick_params(axis="both", which="both", direction="in", length=6, width=1,
                   labelsize=12.5, labelcolor="#222")
    ax.tick_params(axis="y", which="both", left=True, right=False, pad=5)
    ax.tick_params(axis="x", which="both", top=True, bottom=True, pad=7)
    ax2.tick_params(axis="y", which="both", direction="in", length=6, width=1,
                    labelsize=12.5, labelcolor="#222", pad=3)
    for a in (ax, ax2):
        for s in a.spines.values():
            s.set_linewidth(1.1)

    # side labels with the small legend glyphs
    ov.text(x0 - 67, y0 + 195, "MAG(Yce) (m/s)  [DB]", rotation=90, ha="center",
            va="center", fontsize=15.5, color="#333", zorder=3)
    lx = x0 - 49
    ov.plot([lx, lx], [y0 + 143, y0 + 220], color=RED, lw=1, zorder=3)
    ov.plot([lx - 2, lx + 6], [y0 + 221, y0 + 218], color=RED, lw=1, zorder=3)
    ov.plot([lx, lx], [y0 + 258, y0 + 274], ls="none", marker="s", ms=6, mfc="none",
            mec=RED, mew=1, zorder=3)
    ov.text(x1 + 53, y0 + 193, "PH(Yce) (m/s)  [E+0]", rotation=90, ha="center",
            va="center", fontsize=15.5, color="#333", zorder=3)
    rx = x1 + 71
    ov.plot([rx, rx], [y0 + 155, y0 + 228], color=BLUE, lw=1, zorder=3)
    ov.plot([rx - 4, rx + 5], [y0 + 229, y0 + 227], color=BLUE, lw=1, zorder=3)
    ov.plot([rx, rx], [y0 + 258, y0 + 274], ls="none", marker="s", ms=6, mfc="none",
            mec=BLUE, mew=1, zorder=3)
    ov.text((x0 + x1) / 2 - 6, y1 + 44, "freq  [LOG]", ha="center", va="center",
            fontsize=15.5, color="#333", zorder=3)

    tx0, ty0, tx1, ty1 = p["tb"]
    ov.add_patch(Rectangle((tx0, ty0), tx1 - tx0, ty1 - ty0, fc="white", ec="black",
                           lw=1.6, zorder=5))
    ov.text((tx0 + tx1) / 2, (ty0 + ty1) / 2 + 1, p["title"], ha="center", va="center",
            fontsize=22.5, fontweight="bold", family="DejaVu Sans", color="black", zorder=6)


fig = plt.figure(figsize=(W / 100, H / 100), dpi=100)
ov = fig.add_axes([0, 0, 1, 1], zorder=10)
ov.set_xlim(0, W)
ov.set_ylim(H, 0)
ov.axis("off")
ov.patch.set_visible(False)

# slide decorations
ov.plot([402, W], [13, 13], color="#1a1a1a", lw=2.4, solid_capstyle="butt", zorder=1)
ov.plot([0, 502], [896, 896], color=RED, lw=1.1, zorder=1)
ov.plot([502, 502], [896, H], color=RED, lw=1.1, zorder=1)

for panel in PANELS:
    draw_panel(fig, ov, panel)

# note box at lower right (cut by the slide edge, as in the source)
for yy in (1115, 1120, 1125):
    ov.plot([1095, W], [yy, yy], color="#888888", lw=2.5, solid_capstyle="butt", zorder=4)
ov.add_patch(Rectangle((1079, 898), 500, 213, fc="#00ffff", ec="black", lw=1.6, zorder=5))
for i, line in enumerate(NOTE_LINES):
    ov.text(1101, 962 + 64 * i, line, ha="left", va="baseline", fontsize=35.5,
            family="DejaVu Sans", color="black", zorder=6)

fig.savefig("out.png", dpi=100)
